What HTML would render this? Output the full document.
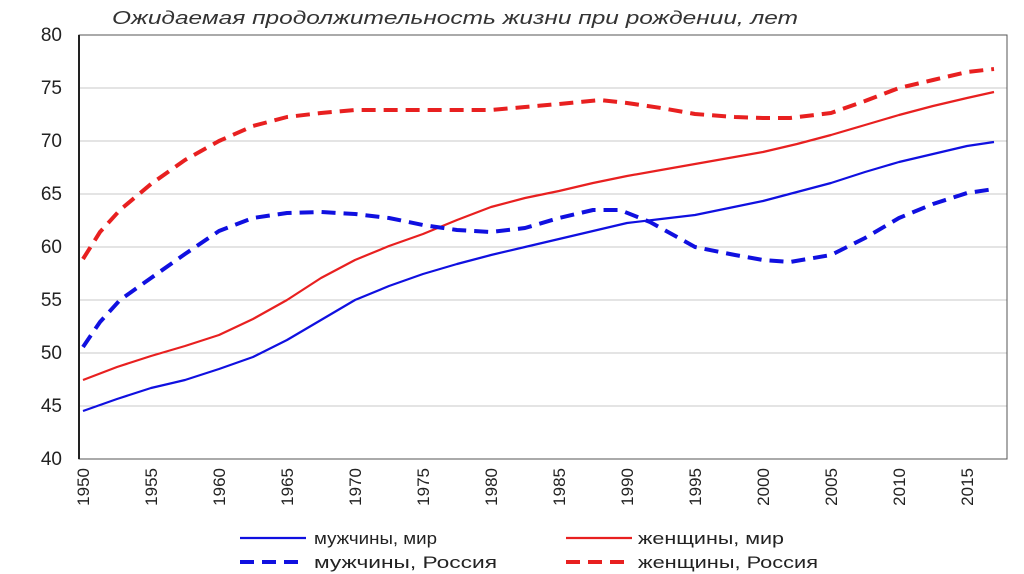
<!DOCTYPE html>
<html><head><meta charset="utf-8"><style>
html,body{margin:0;padding:0;background:#fff;}
svg{display:block;font-family:"Liberation Sans",sans-serif;}
</style></head><body>
<svg width="1024" height="574" viewBox="0 0 1024 574">
<text x="112" y="24" font-size="18" font-style="italic" fill="#333" textLength="686" lengthAdjust="spacingAndGlyphs">Ожидаемая продолжительность жизни при рождении, лет</text>
<g stroke="#c8c8c8" stroke-width="1">
<line x1="79" y1="88" x2="1007" y2="88"/><line x1="79" y1="141" x2="1007" y2="141"/>
<line x1="79" y1="194" x2="1007" y2="194"/><line x1="79" y1="247" x2="1007" y2="247"/>
<line x1="79" y1="300" x2="1007" y2="300"/><line x1="79" y1="353" x2="1007" y2="353"/>
<line x1="79" y1="406" x2="1007" y2="406"/>
</g>
<rect x="79" y="35" width="928" height="424" fill="none" stroke="#555" stroke-width="1"/>
<line x1="79" y1="35" x2="79" y2="459" stroke="#222" stroke-width="2"/>
<g font-size="19" fill="#222" text-anchor="end">
<text x="62" y="41">80</text><text x="62" y="94">75</text><text x="62" y="147">70</text>
<text x="62" y="200">65</text><text x="62" y="253">60</text><text x="62" y="306">55</text>
<text x="62" y="359">50</text><text x="62" y="412">45</text><text x="62" y="465">40</text>
</g>
<g font-size="17" fill="#222" text-anchor="end">
<text transform="translate(89,468) rotate(-90)">1950</text>
<text transform="translate(157,468) rotate(-90)">1955</text>
<text transform="translate(225,468) rotate(-90)">1960</text>
<text transform="translate(293,468) rotate(-90)">1965</text>
<text transform="translate(361,468) rotate(-90)">1970</text>
<text transform="translate(429,468) rotate(-90)">1975</text>
<text transform="translate(497,468) rotate(-90)">1980</text>
<text transform="translate(565,468) rotate(-90)">1985</text>
<text transform="translate(633,468) rotate(-90)">1990</text>
<text transform="translate(701,468) rotate(-90)">1995</text>
<text transform="translate(769,468) rotate(-90)">2000</text>
<text transform="translate(837,468) rotate(-90)">2005</text>
<text transform="translate(905,468) rotate(-90)">2010</text>
<text transform="translate(973,468) rotate(-90)">2015</text>
</g>
<g fill="none" stroke-linejoin="round" stroke-linecap="butt">
<polyline stroke="#1010e0" stroke-width="2.2" points="83,411 117,399 151,388 185,380 219,369 253,357 287,340 321,320 355,300 389,286 423,274 457,264 491,255 525,247 559,239 593,231 627,223 661,219 695,215 729,208 763,201 797,192 831,183 865,172 899,162 933,154 967,146 994,142"/>
<polyline stroke="#e82020" stroke-width="2.2" points="83,380 117,367 151,356 185,346 219,335 253,319 287,300 321,278 355,260 389,246 423,234 457,220 491,207 525,198 559,191 593,183 627,176 661,170 695,164 729,158 763,152 797,144 831,135 865,125 899,115 933,106 967,98 994,92"/>
<polyline stroke="#1010e0" stroke-width="4" stroke-dasharray="14,8" points="83,347 100,322 120,300 151,278 185,254 219,231 253,218 287,213 321,212 355,214 389,218 423,225 457,230 491,232 525,228 559,218 593,210 620,210 650,222 695,247 735,255 763,260 790,262 831,255 865,238 899,218 933,204 967,193 994,189"/>
<polyline stroke="#e82020" stroke-width="4" stroke-dasharray="14,8" points="83,259 100,232 120,210 151,184 185,160 219,141 253,126 287,117 321,113 355,110 389,110 423,110 457,110 491,110 525,107 559,104 600,100 627,103 661,108 695,114 735,117 763,118 790,118 831,113 865,101 899,88 933,80 967,72 994,69"/>
</g>
<g font-size="17" fill="#222">
<line x1="240" y1="538" x2="306" y2="538" stroke="#1010e0" stroke-width="2.2"/>
<text x="314" y="544" textLength="123" lengthAdjust="spacingAndGlyphs">мужчины, мир</text>
<line x1="566" y1="538" x2="632" y2="538" stroke="#e82020" stroke-width="2.2"/>
<text x="638" y="544" textLength="146" lengthAdjust="spacingAndGlyphs">женщины,  мир</text>
<line x1="240" y1="562" x2="306" y2="562" stroke="#1010e0" stroke-width="4" stroke-dasharray="14,8"/>
<text x="314" y="568" textLength="183" lengthAdjust="spacingAndGlyphs">мужчины, Россия</text>
<line x1="566" y1="562" x2="632" y2="562" stroke="#e82020" stroke-width="4" stroke-dasharray="14,8"/>
<text x="638" y="568" textLength="180" lengthAdjust="spacingAndGlyphs">женщины,  Россия</text>
</g>
</svg>
</body></html>
